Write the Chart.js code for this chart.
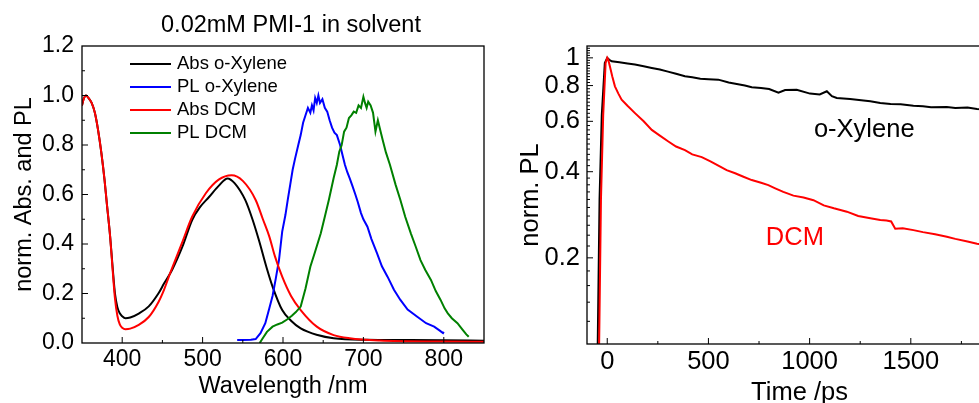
<!DOCTYPE html>
<html lang="en">
<head>
<meta charset="UTF-8">
<title>PMI-1 spectra and PL decay</title>
<script src="https://cdn.jsdelivr.net/npm/chart.js"></script>
<style>
    html, body { margin: 0; padding: 0; background: #fff; overflow: hidden; width: 979px; height: 403px; }
    #left { position: absolute; left: 0; top: 0; width: 490px; height: 403px; }
    #right { position: absolute; left: 490px; top: 0; width: 530px; height: 412px; }
</style>
</head>
<body>
<div id="left"><canvas id="specChart"></canvas></div>
<div id="right"><canvas id="decayChart"></canvas></div>

<script>
// ---- left panel: normalised absorption and PL spectra ----
const absXylWl  = [350,352,355,358,362,366,370,374,378,381,385,388,391,394,397,400,404,410,420,433,445,452,462,475,487,497,508,520,531,540,553,562,570,580,587,599,610,622,643,663,705,750,800,850];
const absXylVal = [0.96,0.985,1.0,0.99,0.97,0.93,0.86,0.77,0.66,0.56,0.43,0.31,0.20,0.145,0.12,0.108,0.10,0.103,0.118,0.148,0.20,0.24,0.295,0.39,0.497,0.55,0.59,0.635,0.665,0.645,0.578,0.50,0.416,0.30,0.228,0.133,0.09,0.059,0.032,0.019,0.013,0.012,0.011,0.009];

const absDcmWl  = [350,352,355,358,362,366,370,374,378,381,385,388,391,394,397,400,404,410,420,433,445,452,460,475,487,504,520,536,550,566,575,583,590,599,610,622,642,663,683,720,800,850];
const absDcmVal = [0.96,0.985,1.0,0.99,0.97,0.93,0.86,0.77,0.66,0.56,0.43,0.30,0.18,0.11,0.075,0.062,0.056,0.058,0.072,0.105,0.165,0.215,0.285,0.41,0.51,0.605,0.66,0.678,0.655,0.578,0.50,0.43,0.35,0.268,0.19,0.133,0.066,0.032,0.019,0.01,0.006,0.005];

const plXylWl  = [543,550,560,566,572,578,583,587,591,595,599,603,606,609,612,615,619,622,625,628,631,634,636,638,640,642,644,646,649,652,655,658,661,664,667,671,674,677,680,683,686,690,693,697,700,705,710,717,723,730,738,746,755,767,778,788,795,799,800];
const plXylVal = [0.012,0.012,0.013,0.016,0.04,0.08,0.14,0.19,0.26,0.335,0.45,0.517,0.58,0.64,0.70,0.745,0.80,0.84,0.89,0.92,0.95,0.93,0.96,0.94,0.99,0.97,1.0,0.97,0.985,0.95,0.935,0.90,0.87,0.85,0.84,0.80,0.76,0.72,0.69,0.665,0.638,0.60,0.57,0.525,0.50,0.47,0.42,0.362,0.31,0.268,0.215,0.174,0.135,0.106,0.08,0.066,0.05,0.04,0.045];

const plDcmWl  = [571,575,580,587,593,599,605,611,616,622,628,634,640,647,652,657,663,667,670,673,676,679,682,685,688,691,694,697,700,702,704,706,709,712,715,718,721,724,728,733,740,746,752,759,765,771,777,784,790,796,801,805,810,817,823,828,831];
const plDcmVal = [0.0,0.02,0.045,0.066,0.075,0.082,0.095,0.11,0.125,0.147,0.22,0.308,0.37,0.443,0.51,0.578,0.667,0.72,0.773,0.80,0.854,0.87,0.909,0.92,0.935,0.93,0.96,0.95,0.995,0.97,0.95,0.975,0.96,0.93,0.854,0.90,0.86,0.82,0.77,0.72,0.64,0.578,0.51,0.443,0.39,0.335,0.295,0.255,0.21,0.174,0.14,0.12,0.10,0.08,0.055,0.035,0.025];

const specXTicks = [400, 500, 600, 700, 800];
const specXMinor = [450, 550, 650, 750];
const specYTicks = [0, 0.2, 0.4, 0.6, 0.8, 1.0, 1.2];
const specYMinor = [0.1, 0.3, 0.5, 0.7, 0.9, 1.1];

// ---- right panel: PL decay (log scale) ----
const timeXyl = [-60,-47,-38,-27,-12,0,10,22,60,100,137,180,220,260,300,340,384,420,460,500,549,600,640,680,714,760,800,846,879,936,1002,1050,1085,1110,1134,1200,1266,1300,1349,1400,1450,1513,1560,1600,1678,1720,1780,1827,1870,1920];
const plXyl   = [0.09,0.1,0.32,0.63,0.96,1.0,0.985,0.973,0.965,0.955,0.947,0.935,0.922,0.91,0.895,0.88,0.862,0.855,0.845,0.842,0.839,0.82,0.81,0.80,0.789,0.785,0.778,0.755,0.772,0.774,0.75,0.745,0.764,0.735,0.724,0.718,0.71,0.705,0.695,0.69,0.688,0.68,0.678,0.672,0.673,0.668,0.67,0.662,0.66,0.658];

const timeDcm = [-60,-40,-31,-20,-8,0,5,13,25,38,55,71,100,137,180,220,260,302,340,384,420,467,510,549,590,632,670,714,760,796,830,870,920,970,1019,1070,1120,1184,1240,1300,1349,1380,1403,1423,1460,1513,1560,1620,1678,1720,1780,1827,1870,1920];
const plDcm   = [0.09,0.1,0.32,0.63,0.96,1.0,0.985,0.934,0.86,0.795,0.75,0.714,0.68,0.641,0.60,0.56,0.535,0.51,0.49,0.476,0.46,0.45,0.435,0.42,0.405,0.395,0.385,0.374,0.366,0.359,0.35,0.34,0.33,0.325,0.318,0.305,0.298,0.29,0.28,0.275,0.271,0.27,0.268,0.253,0.254,0.25,0.246,0.242,0.237,0.233,0.228,0.224,0.222,0.218];

const decayXTicks = [0, 500, 1000, 1500];
const decayXMinor = [250, 750, 1250, 1750];
const decayYTicks = [0.2, 0.4, 0.6, 0.8, 1];

const FONT = "'Liberation Sans', Arial, Helvetica, sans-serif";
Chart.defaults.font.family = FONT;
Chart.defaults.color = '#000';

const pts = (xs, ys) => xs.map((x, i) => ({ x: x, y: ys[i] }));

function line(ctx, x1, y1, x2, y2) {
    ctx.beginPath();
    ctx.moveTo(x1, y1);
    ctx.lineTo(x2, y2);
    ctx.stroke();
}

// box around the plot with inward ticks (Origin style)
const frameTicks = {
    id: 'frameTicks',
    afterDatasetsDraw(chart, args, o) {
        const { ctx, chartArea: a } = chart;
        const sx = chart.scales.x, sy = chart.scales.y;
        ctx.save();
        ctx.strokeStyle = '#000';
        ctx.lineWidth = 1.3;
        ctx.strokeRect(a.left, a.top, a.right - a.left, a.bottom - a.top);
        ctx.lineWidth = 1;
        const xs = (vals, len) => vals.forEach(v => {
            const p = sx.getPixelForValue(v);
            if (p > a.left + 1 && p < a.right - 1) line(ctx, p, a.bottom, p, a.bottom - len);
        });
        const ys = (vals, len) => vals.forEach(v => {
            const p = sy.getPixelForValue(v);
            if (p > a.top + 1 && p < a.bottom - 1) line(ctx, a.left, p, a.left + len, p);
        });
        xs(o.xMajor, 6); xs(o.xMinor, 3);
        ys(o.yMajor, 6); ys(o.yMinor, 3);
        ctx.restore();
    }
};

// legend with line samples, drawn inside the plot
const lineLegend = {
    id: 'lineLegend',
    afterDraw(chart, args, o) {
        const ctx = chart.ctx;
        ctx.save();
        ctx.font = o.font;
        ctx.textBaseline = 'middle';
        ctx.fillStyle = '#000';
        chart.data.datasets.forEach((ds, i) => {
            const yy = o.y + i * o.step;
            ctx.strokeStyle = ds.borderColor;
            ctx.lineWidth = 2;
            line(ctx, o.x, yy, o.x + o.len, yy);
            ctx.fillText(ds.label, o.x + o.len + o.gap, yy);
        });
        ctx.restore();
    }
};

const plotTitle = {
    id: 'plotTitle',
    afterDraw(chart, args, o) {
        const ctx = chart.ctx;
        ctx.save();
        ctx.font = o.font;
        ctx.fillStyle = '#000';
        ctx.textAlign = 'center';
        ctx.textBaseline = 'middle';
        ctx.fillText(o.text, o.x, o.y);
        ctx.restore();
    }
};

// text labels next to the decay curves, placed in data units
const curveLabels = {
    id: 'curveLabels',
    afterDatasetsDraw(chart, args, o) {
        const { ctx } = chart;
        const sx = chart.scales.x, sy = chart.scales.y;
        ctx.save();
        ctx.font = o.font;
        ctx.textAlign = 'center';
        ctx.textBaseline = 'middle';
        o.items.forEach(it => {
            ctx.fillStyle = it.color;
            ctx.fillText(it.text, sx.getPixelForValue(it.t), sy.getPixelForValue(it.v));
        });
        ctx.restore();
    }
};

// Spectra chart
new Chart(document.getElementById('specChart'), {
    type: 'line',
    data: {
        datasets: [
            { label: 'Abs o-Xylene', data: pts(absXylWl, absXylVal), borderColor: '#000000', order: 3, cubicInterpolationMode: 'monotone' },
            { label: 'PL o-Xylene', data: pts(plXylWl, plXylVal), borderColor: '#0000ff', order: 2 },
            { label: 'Abs DCM', data: pts(absDcmWl, absDcmVal), borderColor: '#ff0000', order: 1, cubicInterpolationMode: 'monotone' },
            { label: 'PL DCM', data: pts(plDcmWl, plDcmVal), borderColor: '#008000', order: 0 }
        ]
    },
    options: {
        responsive: true,
        maintainAspectRatio: false,
        animation: false,
        layout: { padding: { top: 46, right: 6, left: 0, bottom: 0 } },
        elements: { point: { radius: 0 }, line: { borderWidth: 2, tension: 0 } },
        plugins: {
            legend: { display: false },
            tooltip: { enabled: false },
            frameTicks: { xMajor: specXTicks, xMinor: specXMinor, yMajor: specYTicks, yMinor: specYMinor },
            lineLegend: { x: 130, y: 64, step: 23, len: 41, gap: 6, font: '18.5px ' + FONT },
            plotTitle: { text: '0.02mM PMI-1 in solvent', x: 291, y: 26, font: '23.5px ' + FONT }
        },
        scales: {
            x: {
                type: 'linear', min: 350, max: 850,
                afterBuildTicks: s => { s.ticks = specXTicks.map(v => ({ value: v })); },
                afterFit: s => { s.height = 60; },
                grid: { display: false, drawTicks: false },
                border: { display: false },
                ticks: { font: { size: 23 }, color: '#000', padding: 3, maxRotation: 0, autoSkip: false, callback: v => String(v) },
                title: { display: true, text: 'Wavelength /nm', font: { size: 23.5 }, color: '#000', padding: { top: 0, bottom: 2 } }
            },
            y: {
                type: 'linear', min: 0, max: 1.2,
                afterBuildTicks: s => { s.ticks = specYTicks.map(v => ({ value: v })); },
                afterFit: s => { s.width = 82; },
                grid: { display: false, drawTicks: false },
                border: { display: false },
                ticks: { font: { size: 23 }, color: '#000', padding: 8, autoSkip: false, callback: v => Number(v).toFixed(1) },
                title: { display: true, text: 'norm. Abs. and PL', font: { size: 23.5 }, color: '#000', padding: { top: 10, bottom: 0 } }
            }
        }
    },
    plugins: [frameTicks, lineLegend, plotTitle]
});

// minor ticks of the log axis every 0.02
const decayYMinor = [];
for (let k = 5; k <= 55; k++) {
    const v = +(k * 0.02).toFixed(2);
    if (!decayYTicks.includes(v)) decayYMinor.push(v);
}

// Decay chart
new Chart(document.getElementById('decayChart'), {
    type: 'line',
    data: {
        datasets: [
            { label: 'DCM', data: pts(timeDcm, plDcm), borderColor: '#ff0000', order: 0 },
            { label: 'o-Xylene', data: pts(timeXyl, plXyl), borderColor: '#000000', order: 1 }
        ]
    },
    options: {
        responsive: true,
        maintainAspectRatio: false,
        animation: false,
        layout: { padding: { top: 46, right: 8, left: 0, bottom: 0 } },
        elements: { point: { radius: 0 }, line: { borderWidth: 2, tension: 0 } },
        plugins: {
            legend: { display: false },
            tooltip: { enabled: false },
            frameTicks: { xMajor: decayXTicks, xMinor: decayXMinor, yMajor: decayYTicks, yMinor: decayYMinor },
            curveLabels: {
                font: '25.5px ' + FONT,
                items: [
                    { text: 'o-Xylene', t: 1270, v: 0.56, color: '#000000' },
                    { text: 'DCM', t: 927, v: 0.2345, color: '#ff0000' }
                ]
            }
        },
        scales: {
            x: {
                type: 'linear', min: -100, max: 2000,
                afterBuildTicks: s => { s.ticks = decayXTicks.map(v => ({ value: v })); },
                afterFit: s => { s.height = 68; },
                grid: { display: false, drawTicks: false },
                border: { display: false },
                ticks: { font: { size: 25.5 }, color: '#000', padding: 3, maxRotation: 0, autoSkip: false, callback: v => String(v) },
                title: { display: true, text: 'Time /ps', font: { size: 25.5 }, color: '#000', padding: { top: 0, bottom: 4 } }
            },
            y: {
                type: 'logarithmic', min: 0.1, max: 1.1,
                afterBuildTicks: s => { s.ticks = decayYTicks.map(v => ({ value: v })); },
                afterFit: s => { s.width = 97; },
                grid: { display: false, drawTicks: false },
                border: { display: false },
                ticks: { font: { size: 25.5 }, color: '#000', padding: 7, autoSkip: false, callback: v => String(v) },
                title: { display: true, text: 'norm. PL', font: { size: 25.5 }, color: '#000', padding: { top: 26, bottom: 0 } }
            }
        }
    },
    plugins: [frameTicks, curveLabels]
});
</script>
</body>
</html>
